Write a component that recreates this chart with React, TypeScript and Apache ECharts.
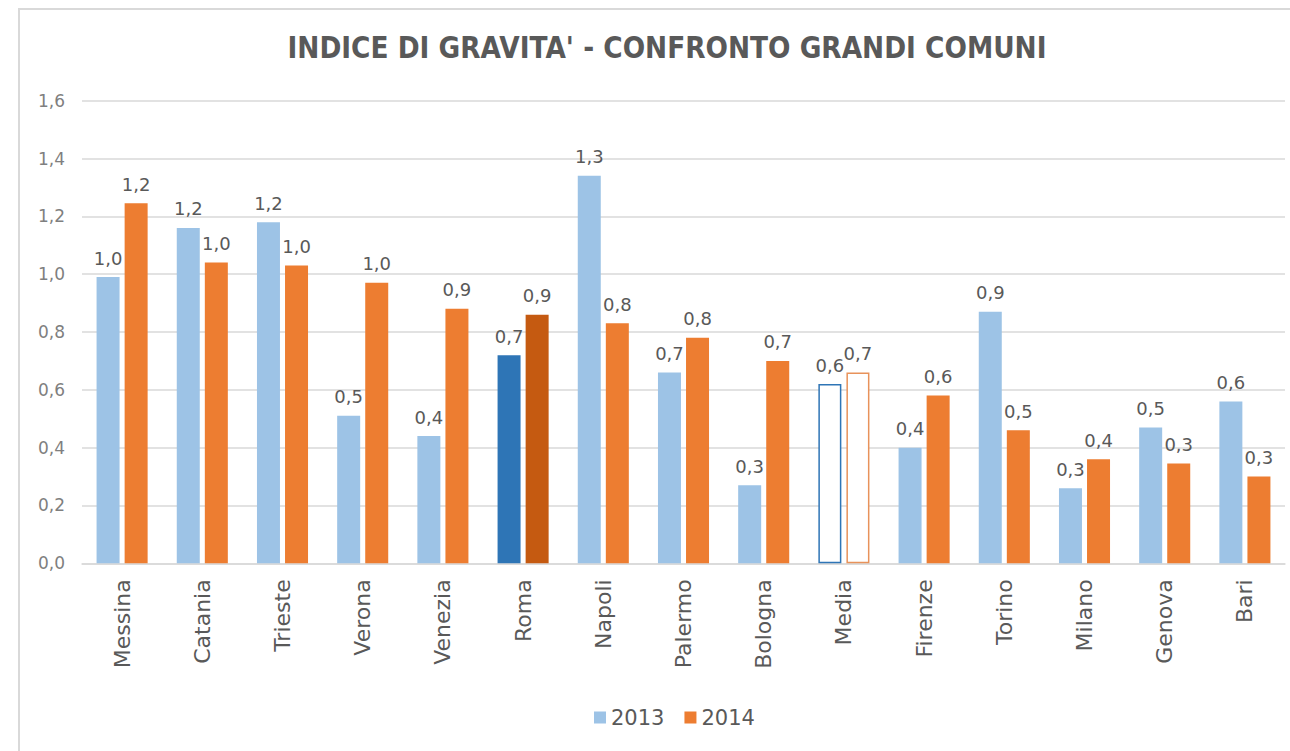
import React, { useEffect, useRef } from "react";
import * as echarts from "echarts";

const categories = ["Messina", "Catania", "Trieste", "Verona", "Venezia", "Roma", "Napoli", "Palermo", "Bologna", "Media", "Firenze", "Torino", "Milano", "Genova", "Bari"];
const values2013 = [0.99, 1.16, 1.18, 0.51, 0.44, 0.72, 1.34, 0.66, 0.27, 0.62, 0.40, 0.87, 0.26, 0.47, 0.56];
const values2014 = [1.245, 1.04, 1.03, 0.97, 0.88, 0.86, 0.83, 0.78, 0.70, 0.66, 0.58, 0.46, 0.36, 0.345, 0.30];
const seriesNames = ["2013", "2014"];
const titleText = "INDICE DI GRAVITA' - CONFRONTO GRANDI COMUNI";

const FONT = "DejaVu Sans";
const fmt = (v: number) => v.toFixed(1).replace(".", ",");

function buildData(values: number[], base: string, dark: string, outline: string) {
  return values.map((v, i) => {
    const c = categories[i];
    if (c === "Roma") return { value: v, itemStyle: { color: dark } };
    if (c === "Media") return { value: v, itemStyle: { color: "#ffffff", borderColor: outline, borderWidth: 1.5 } };
    return { value: v, itemStyle: { color: base } };
  });
}

export default function App() {
  const ref = useRef<HTMLDivElement>(null);
  useEffect(() => {
    if (!ref.current) return;
    const chart = echarts.init(ref.current, null, { renderer: "svg" });
    const label = {
      show: true,
      position: "top",
      distance: 10,
      color: "#595959",
      fontFamily: FONT,
      fontSize: 18,
      formatter: (p: any) => fmt(p.value),
    };
    chart.setOption({
      animation: false,
      backgroundColor: "#ffffff",
      graphic: [
        {
          type: "rect",
          shape: { x: 19, y: 9, width: 1300, height: 800 },
          style: { fill: "none", stroke: "#D9D9D9", lineWidth: 2 },
          silent: true,
        },
        {
          type: "text",
          x: 667,
          y: 48,
          scaleX: 0.88,
          style: {
            text: titleText,
            fill: "#595959",
            font: `bold 30px "${FONT}"`,
            textAlign: "center",
            textVerticalAlign: "middle",
          },
        },
      ],
      grid: { left: 82, right: 5, top: 100.7, bottom: 187.7, containLabel: false },
      legend: {
        data: seriesNames,
        bottom: 18,
        left: 589,
        itemWidth: 12,
        itemHeight: 12,
        itemGap: 20,
        icon: "rect",
        textStyle: { color: "#595959", fontFamily: FONT, fontSize: 21 },
      },
      xAxis: {
        type: "category",
        data: categories,
        axisLine: { show: true, lineStyle: { color: "#D9D9D9", width: 1.5 } },
        axisTick: { show: false },
        axisLabel: {
          rotate: 90,
          margin: 16,
          color: "#595959",
          fontFamily: FONT,
          fontSize: 22,
          interval: 0,
        },
      },
      yAxis: {
        type: "value",
        min: 0,
        max: 1.6,
        interval: 0.2,
        axisLine: { show: false },
        axisTick: { show: false },
        splitLine: { lineStyle: { color: "#D9D9D9", width: 1.5 } },
        axisLabel: {
          margin: 17,
          color: "#7F7F7F",
          fontFamily: FONT,
          fontSize: 17,
          formatter: (v: number) => fmt(v),
        },
      },
      series: [
        {
          name: seriesNames[0],
          type: "bar",
          barWidth: 23,
          barGap: "22%",
          itemStyle: { color: "#9DC3E6" },
          label,
          data: buildData(values2013, "#9DC3E6", "#2E75B6", "#2E75B6"),
        },
        {
          name: seriesNames[1],
          type: "bar",
          barWidth: 23,
          barGap: "22%",
          itemStyle: { color: "#ED7D31" },
          label,
          data: buildData(values2014, "#ED7D31", "#C55A11", "#E8925A"),
        },
      ],
    });
    return () => chart.dispose();
  }, []);
  return (
    <div
      ref={ref}
      style={{ position: "absolute", left: 0, top: 0, width: 1290, height: 751, background: "#fff" }}
    />
  );
}
